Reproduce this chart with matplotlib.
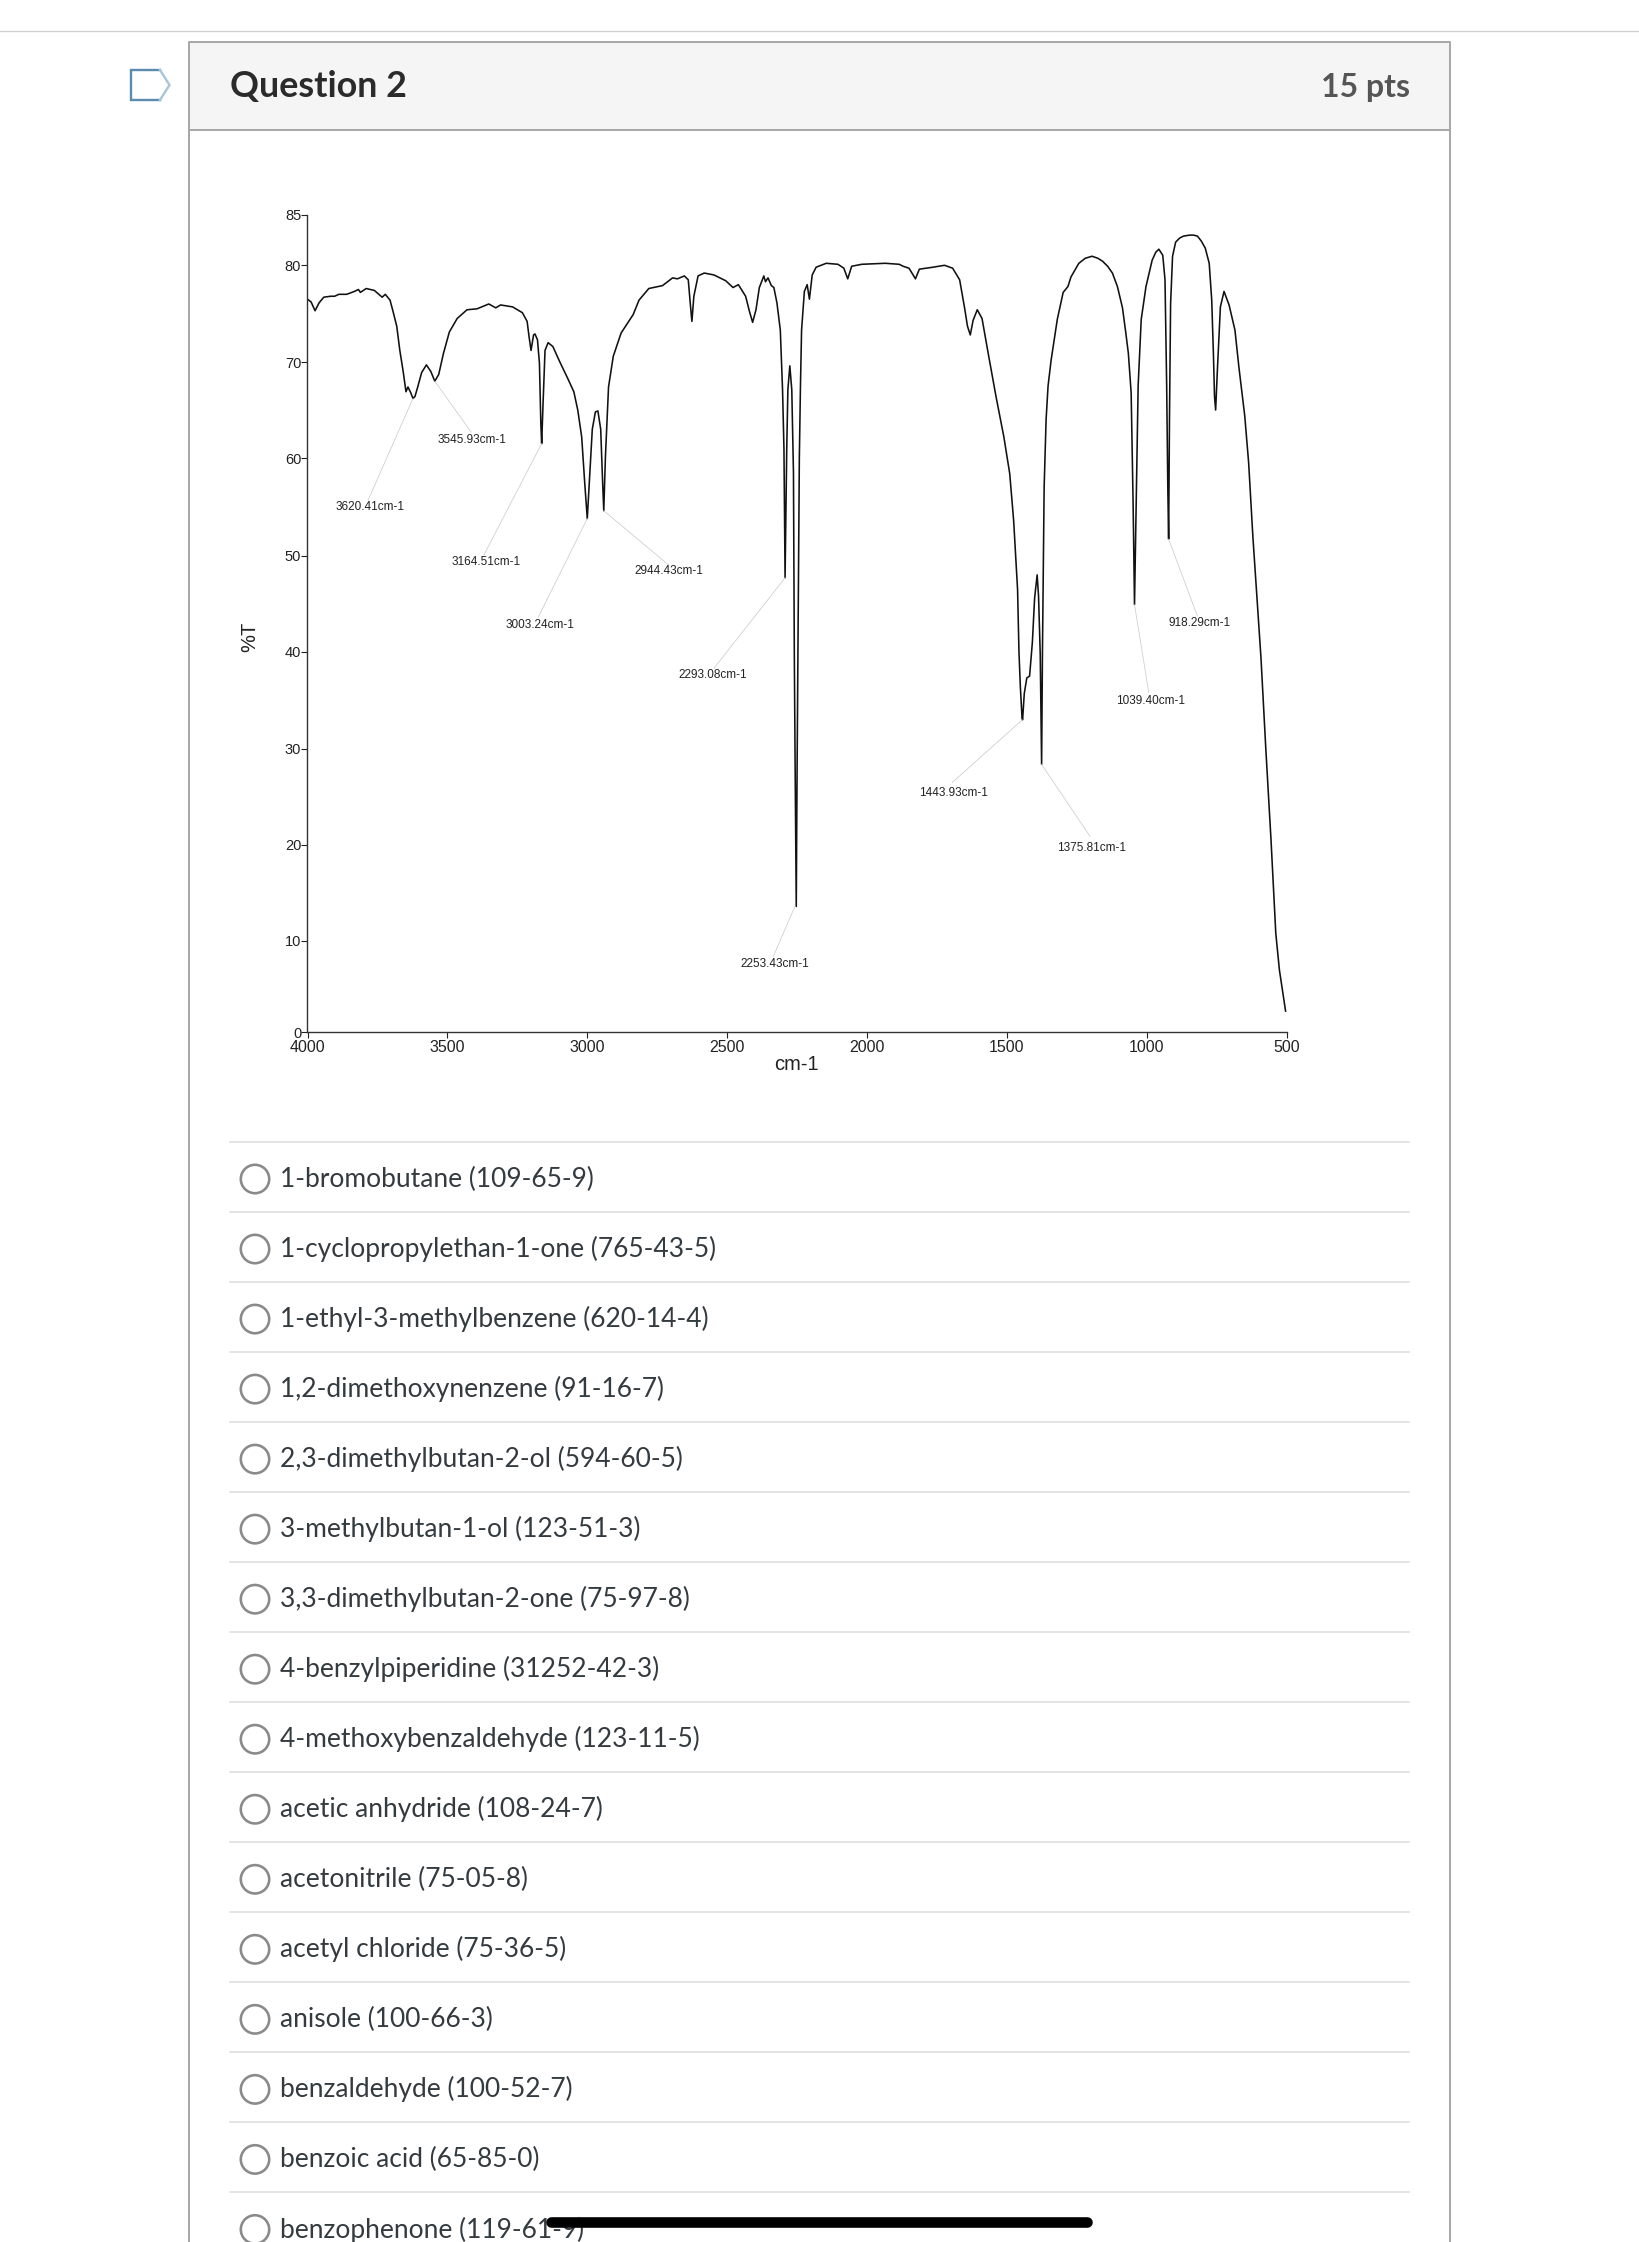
import numpy as np
import matplotlib
matplotlib.use("Agg")
import matplotlib.pyplot as plt
from matplotlib.patches import Rectangle, Circle

wavenumber = [4000,3987,3973,3959,3942,3917,3903,3888,3860,3832,3818,3811,3790,3761,3733,3722,3705,3694,3681,3670,3658,3648,3641,3631,3623,3616,3606,3592,3575,3559,3545,3531,3514,3493,3465,3430,3394,3352,3327,3310,3267,3232,3215,3208,3201,3192,3187,3178,3171,3166,3163,3158,3151,3140,3123,3098,3070,3048,3034,3020,3009,3000,2993,2982,2971,2962,2952,2945,2941,2935,2924,2907,2879,2836,2815,2780,2731,2695,2678,2653,2639,2632,2626,2619,2604,2582,2547,2505,2479,2460,2434,2420,2409,2397,2385,2369,2363,2354,2342,2333,2322,2310,2302,2297,2293,2287,2283,2276,2269,2263,2260,2257,2253,2250,2247,2242,2238,2234,2224,2214,2206,2196,2182,2146,2104,2083,2069,2055,2019,1935,1885,1871,1850,1827,1813,1765,1723,1694,1669,1652,1641,1631,1621,1606,1589,1567,1539,1511,1490,1476,1462,1457,1452,1446,1444,1438,1429,1419,1409,1401,1392,1387,1381,1376,1373,1367,1360,1353,1342,1320,1299,1282,1271,1243,1220,1196,1175,1158,1140,1123,1105,1087,1075,1066,1056,1049,1044,1038,1031,1020,1003,981,968,957,943,935,929,925,922,919,915,908,897,883,869,847,833,819,805,791,777,768,762,758,754,748,737,724,706,685,671,650,636,621,607,592,575,556,539,526,504]
transmittance = [76.5,76.2,75.3,76.1,76.7,76.8,76.8,77.0,77.0,77.3,77.5,77.2,77.6,77.4,76.7,77.0,76.4,75.2,73.7,71.2,69.0,66.9,67.4,66.8,66.2,66.4,67.4,68.9,69.7,69.0,68.0,68.7,70.9,73.1,74.5,75.4,75.5,76.0,75.6,75.9,75.7,75.1,74.2,72.6,71.2,72.8,72.9,72.3,69.9,63.6,61.5,65.7,71.2,72.0,71.6,70.0,68.3,66.9,65.0,62.2,57.4,53.8,57.4,63.0,64.8,64.9,63.0,57.4,54.6,60.2,67.4,70.6,73.0,74.9,76.4,77.6,77.9,78.7,78.6,78.9,78.5,76.1,74.2,76.8,78.9,79.2,79.0,78.4,77.7,78.0,76.8,75.2,74.1,75.4,77.7,78.9,78.3,78.7,77.9,77.7,76.1,73.3,67.1,61.0,47.7,61.0,67.1,69.6,67.1,58.5,40.0,28.0,13.6,28.0,40.0,60.0,67.5,73.3,77.3,78.0,76.5,79.0,79.8,80.2,80.1,79.7,78.6,79.9,80.1,80.2,80.1,79.9,79.7,78.6,79.6,79.8,80.0,79.7,78.5,75.7,73.7,72.8,74.3,75.4,74.5,70.9,66.4,62.2,58.4,53.6,46.5,40.0,36.4,33.2,33.0,35.7,37.3,37.5,41.0,45.6,48.0,45.8,39.8,28.4,40.0,57.0,64.0,67.5,70.2,74.4,77.2,77.8,78.8,80.2,80.7,80.9,80.7,80.4,79.9,79.2,77.8,75.6,73.0,70.9,66.8,55.4,44.9,55.4,67.5,74.4,77.8,80.5,81.3,81.6,81.0,78.5,67.5,57.0,51.7,64.0,76.0,80.9,82.3,82.7,82.9,83.0,83.0,82.9,82.4,81.7,80.2,76.4,70.9,66.4,65.0,69.0,75.7,77.3,75.9,73.3,69.5,64.4,59.5,52.0,46.0,39.4,30.2,20.5,10.8,6.8,2.3]

peak_labels = ["3620.41cm-1","3545.93cm-1","3164.51cm-1","3003.24cm-1","2944.43cm-1","2293.08cm-1","2253.43cm-1","1443.93cm-1","1375.81cm-1","1039.40cm-1","918.29cm-1"]
peak_w = [3623,3545,3163,3000,2941,2293,2258,1445,1376,1044,922]
peak_t = [66.2,68.0,61.5,53.8,54.6,47.7,13.6,33.0,28.4,44.9,51.7]
leader_w = [3783,3415,3369,3175,2708,2547,2335,1696,1203,993,819]
leader_t = [55.7,62.7,50.1,43.6,49.0,38.3,8.3,26.5,20.9,35.8,43.7]
label_w = [3776,3411,3363,3168,2708,2550,2330,1691,1197,988,812]
label_t = [55.0,61.9,49.3,42.8,48.4,37.6,7.5,25.4,19.7,34.9,43.0]

x_ticks = [4000,3500,3000,2500,2000,1500,1000,500]
y_ticks = [0,10,20,30,40,50,60,70,80,85]
# the printed %T axis is not evenly spaced: height of each tick above the baseline
y_tick_heights = [0,91,187,283,380.3,476.3,574,670,766.7,817]

options = ["1-bromobutane (109-65-9)","1-cyclopropylethan-1-one (765-43-5)","1-ethyl-3-methylbenzene (620-14-4)","1,2-dimethoxynenzene (91-16-7)","2,3-dimethylbutan-2-ol (594-60-5)","3-methylbutan-1-ol (123-51-3)","3,3-dimethylbutan-2-one (75-97-8)","4-benzylpiperidine (31252-42-3)","4-methoxybenzaldehyde (123-11-5)","acetic anhydride (108-24-7)","acetonitrile (75-05-8)","acetyl chloride (75-36-5)","anisole (100-66-3)","benzaldehyde (100-52-7)","benzoic acid (65-85-0)","benzophenone (119-61-9)"]

W, H = 1640, 2242
fig = plt.figure(figsize=(W/100, H/100), dpi=100, facecolor="white")
page = fig.add_axes([0, 0, 1, 1])
page.set_xlim(0, W); page.set_ylim(H, 0); page.axis("off")
PX = 0.72
UI = ["Lato", "DejaVu Sans"]

page.plot([0, W], [31, 31], color="#cfcfcf", lw=1.3*PX)
page.add_patch(Rectangle((189, 42), 1261, 88, fc="#f5f5f5", ec="none"))
page.plot([189, 189, 1450, 1450], [H, 42, 42, H], color="#a8a8a8", lw=2*PX)
page.plot([189, 1450], [130, 130], color="#a8a8a8", lw=2*PX)
page.plot([160, 131, 131, 160], [70, 70, 100, 100], color="#5a8cae", lw=2.4*PX, solid_joinstyle="miter")
page.plot([160, 169.5, 160], [70, 85, 100], color="#a9c6d9", lw=2.4*PX)
page.text(230, 86.5, "Question 2", family=UI, weight="bold", fontsize=25.8, color="#2b2b2b", va="center")
page.text(1410, 88, "15 pts", family=UI, weight="bold", fontsize=23, color="#555555", va="center", ha="right")

for i, name in enumerate(options):
    yc = 1179 + i*70.03
    page.plot([230, 1409], [yc-37, yc-37], color="#dedede", lw=1.6*PX)
    page.add_patch(Circle((255, yc), 14.2, fc="white", ec="#8a8a8a", lw=2.6*PX))
    page.text(280, yc, name, family=UI, fontsize=19, color="#333b40", va="center")

page.plot([551, 1087], [2221.5, 2221.5], color="black", lw=10.6*PX, solid_capstyle="round", zorder=10)

ax = fig.add_axes([307.5/W, 1-1032/H, (1286.7-307.5)/W, (1032-215)/H], facecolor="none")
ax.set_yscale("function", functions=(
    lambda v: np.interp(v, y_ticks, y_tick_heights),
    lambda h: np.interp(h, y_tick_heights, y_ticks)))
ax.set_xlim(4000, 500); ax.set_ylim(0, 85)
ax.plot(wavenumber, transmittance, color="#111111", lw=1.15, solid_joinstyle="round")

for s in ("top", "right"):
    ax.spines[s].set_visible(False)
for s in ("left", "bottom"):
    ax.spines[s].set_linewidth(1.0)
    ax.spines[s].set_color("#333333")
ax.set_xticks(x_ticks); ax.set_xticklabels([str(v) for v in x_ticks])
ax.set_yticks(y_ticks); ax.set_yticklabels([str(v) for v in y_ticks])
ax.minorticks_off()
ax.tick_params(axis="x", length=4, width=0.8, pad=1.5, labelsize=11.5, colors="#222222")
ax.tick_params(axis="y", length=4, width=0.8, pad=0.5, labelsize=10.5, colors="#222222")
for t in ax.get_xticklabels() + ax.get_yticklabels():
    t.set_family("Liberation Sans")

for lab, pw, pt, lw_, lt, tw, tt in zip(peak_labels, peak_w, peak_t, leader_w, leader_t, label_w, label_t):
    ax.plot([pw, lw_], [pt, lt], color="#cccccc", lw=0.55)
    ax.text(tw, tt, lab, family="Liberation Sans", fontsize=8.5, color="#222222", ha="center", va="center")

page.text(250, 637, "%T", family="Liberation Sans", fontsize=14.5, rotation=90, ha="center", va="center", color="#222222")
page.text(796, 1064, "cm-1", family="Liberation Sans", fontsize=14.5, ha="center", va="center", color="#222222")

fig.savefig("out.png", dpi=100)
